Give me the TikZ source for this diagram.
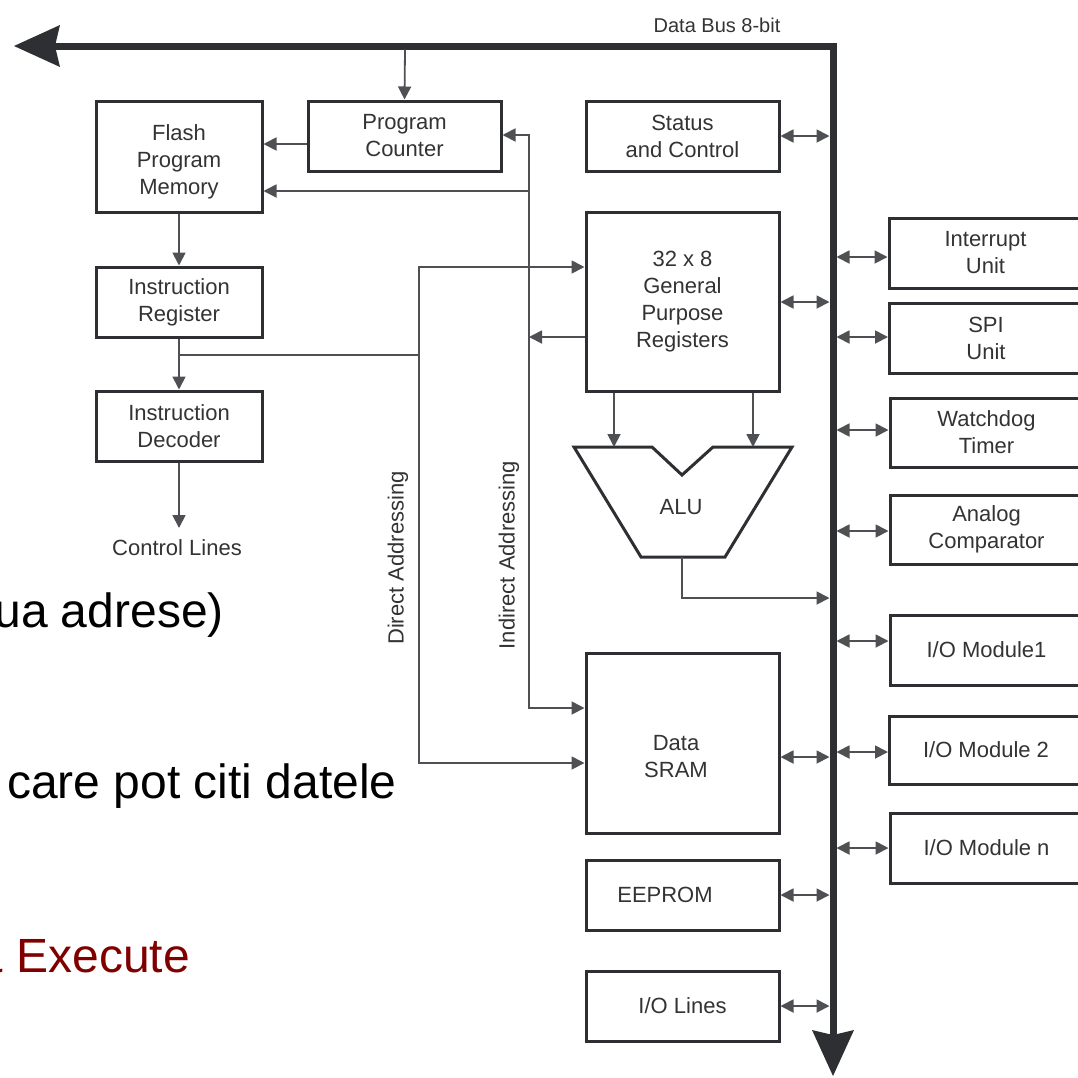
\documentclass[tikz,border=0pt]{standalone}
\usepackage{fontspec}
\setmainfont{Liberation Sans}
\usetikzlibrary{arrows.meta}
\definecolor{ink}{HTML}{2E2F33}
\definecolor{wire}{HTML}{4F5054}
\definecolor{txt}{HTML}{333333}
\definecolor{slidered}{RGB}{128,0,0}

\begin{document}
\begin{tikzpicture}[x=1pt,y=-1pt,
  box/.style={draw=ink,line width=3pt,minimum width=193pt,minimum height=70pt,
    inner sep=0pt,align=center,text=txt,font=\fontsize{22}{27}\selectfont},
  lbl/.style={text=txt,inner sep=0pt,align=center,font=\fontsize{22}{27}\selectfont},
  slide/.style={inner sep=0pt,text=black,font=\fontsize{48}{58}\selectfont},
  tip/.tip={Triangle[length=13pt,width=13pt]},
  conn/.style={draw=wire,line width=1.8pt,-tip},
  wire/.style={draw=wire,line width=1.8pt},
  bidir/.style={draw=wire,line width=1.8pt,tip-tip},
  bigtip/.tip={Stealth[length=46pt,width=42pt,inset=5pt,line width=0pt]}
]
\useasboundingbox (0,0) rectangle (1078,1077);
\clip (0,0) rectangle (1078,1077);

% slide text running behind the diagram
\node[slide,anchor=base east] (t1) at (224,627) {ua adrese)};
\node[slide,anchor=base west] (t2) at (7,798) {care pot citi datele};
\node[slide,anchor=base east,text=slidered] (t3) at (190,972) {\& Execute};

% 8-bit data bus
\coordinate (busL) at (14,46);
\coordinate (busC) at (833,46);
\coordinate (busB) at (833,1076);
\draw[ink,line width=7pt,line join=miter,bigtip-bigtip] (busL) -- (busC) -- (busB);
\node[lbl,font=\fontsize{20}{24}\selectfont] (dbus) at (717,25) {Data Bus 8-bit};

% left column
\node[box,minimum width=166pt,minimum height=111pt] (flash) at (179,156.5) {};
\node[lbl] (flashtxt) at (179,162) {Flash\\Program\\Memory};
\node[box] (pc) at (404.5,136) {Program\\Counter};
\node[box,minimum width=166pt] (ir) at (179,302) {Instruction\\Register};
\node[box,minimum width=166pt] (id) at (179,426) {Instruction\\Decoder};
\node[lbl] (ctl) at (177,548) {Control Lines};

% core column
\node[box] (status) at (682.5,136) {Status\\and Control};
\node[box,minimum height=179pt] (gpr) at (682.5,301.5) {32 x 8\\General\\Purpose\\Registers};
\node[box,minimum height=180pt] (sram) at (682.5,743) {};
\node[lbl] (sramtxt) at (676,757) {Data\\SRAM};
\node[box] (eeprom) at (682.5,895) {};
\node[lbl] (eepromtxt) at (665,895) {EEPROM};
\node[box] (iolines) at (682.5,1006) {I/O Lines};

% ALU
\draw[ink,line width=3pt,line join=miter]
  (574,447) -- (652,447) -- (682,475) -- (713,447) -- (792,447)
  -- (725,557) -- (641,557) -- cycle;
\node[lbl] (alu) at (681,507) {ALU};
\coordinate (aluA) at (614,447);
\coordinate (aluB) at (753,447);
\coordinate (aluout) at (682,557);

% peripherals
\node[box] (irq) at (985.5,253) {Interrupt\\Unit};
\node[box] (spi) at (986,338) {SPI\\Unit};
\node[box,minimum height=69pt] (wdt) at (986.5,432.5) {Watchdog\\Timer};
\node[box,minimum height=69pt] (acomp) at (986.5,529.5) {Analog\\Comparator};
\node[box] (io1) at (986.5,650) {I/O Module1};
\node[box,minimum height=68pt] (io2) at (986,750) {I/O Module 2};
\node[box] (ion) at (986.5,848) {I/O Module n};

% program flow
\draw[conn] (405,49.5) -- (pc.north);
\draw[conn] (pc.west|-0,144) -- (flash.east|-0,144);
\draw[conn] (flash.south) -- (ir.north);
\draw[conn] (ir.south) -- (id.north);
\draw[conn] (id.south) -- (179,528);

% direct addressing path
\coordinate (dtop) at (419,267);
\coordinate (dbot) at (419,763);
\draw[wire] (179,355) -- (419,355);
\draw[bidir] (gpr.west|-dtop) -- (dtop) -- (dbot) -- (sram.west|-dbot);
\node[lbl,rotate=90] (da) at (398,558) {Direct Addressing};

% indirect addressing path
\coordinate (itop) at (529,135);
\coordinate (ibot) at (529,708);
\draw[bidir] (pc.east|-itop) -- (itop) -- (ibot) -- (sram.west|-ibot);
\draw[conn] (529,191) -- (flash.east|-0,191);
\draw[conn] (gpr.west|-0,337) -- (529,337);
\node[lbl,rotate=90] (ia) at (509,555) {Indirect Addressing};

% register file to ALU and ALU to bus
\draw[conn] (gpr.south-|aluA) -- (aluA);
\draw[conn] (gpr.south-|aluB) -- (aluB);
\draw[conn] (aluout) -- (682,598) -- (829.5,598);

% bus connections, left side
\draw[bidir] (status.east|-0,136) -- (829.5,136);
\draw[bidir] (gpr.east|-0,302) -- (829.5,302);
\draw[bidir] (sram.east|-0,757) -- (829.5,757);
\draw[bidir] (eeprom.east|-0,895) -- (829.5,895);
\draw[bidir] (iolines.east|-0,1006) -- (829.5,1006);

% bus connections, right side
\draw[bidir] (836.5,257) -- (irq.west|-0,257);
\draw[bidir] (836.5,337) -- (spi.west|-0,337);
\draw[bidir] (836.5,430) -- (wdt.west|-0,430);
\draw[bidir] (836.5,531) -- (acomp.west|-0,531);
\draw[bidir] (836.5,641) -- (io1.west|-0,641);
\draw[bidir] (836.5,752) -- (io2.west|-0,752);
\draw[bidir] (836.5,848) -- (ion.west|-0,848);
\end{tikzpicture}
\end{document}
